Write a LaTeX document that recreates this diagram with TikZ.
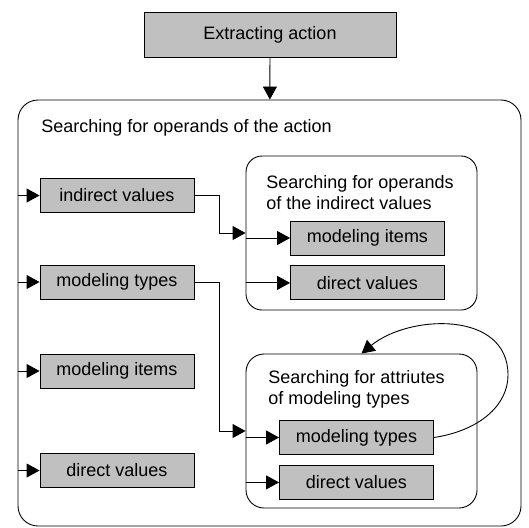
\documentclass[tikz,border=0pt]{standalone}
\usepackage{fontspec}
\setmainfont{Liberation Sans}
\usepackage{tikz}
\usetikzlibrary{arrows.meta,positioning,calc}
\definecolor{boxgray}{HTML}{C0C0C0}

\begin{document}
\begin{tikzpicture}[
  x=1pt, y=1pt,
  font=\fontsize{18}{21}\selectfont,
  line width=0.9pt,
  arr/.style={-{Triangle[length=13pt,width=14pt]}},
  itembox/.style={draw, fill=boxgray, inner sep=0pt, minimum width=154pt, minimum height=34pt},
  frame/.style={draw, rounded corners=20pt, inner sep=0pt},
  caption/.style={anchor=west, align=left, inner sep=0pt}
]
\useasboundingbox (0,0) rectangle (529,-527);

\node[itembox, minimum width=252pt, minimum height=45pt] (extract) at (270,-34.5) {Extracting action};

% outer frame and its items
\node[frame, minimum width=503pt, minimum height=426pt] (action) at (269.5,-313) {};
\node[caption] (actiontitle) at (41,-128) {Searching for operands of the action};
\node[itembox] (indval) at (117,-195.5) {indirect values};
\node[itembox] (modtypA) at (117,-282) {modeling types};
\node[itembox] (moditemA) at (117,-371) {modeling items};
\node[itembox] (dirvalA) at (117,-470.5) {direct values};

% operands of the indirect values
\node[frame, rounded corners=16pt, minimum width=231pt, minimum height=154pt] (operands) at (361.5,-233) {};
\node[caption] (operandstitle) at (266,-192.5) {Searching for operands\\of the indirect values};
\node[itembox] (moditemB) at (367.5,-238) {modeling items};
\node[itembox, below=10pt of moditemB] (dirvalB) {direct values};

% attributes of modeling types
\node[frame, rounded corners=18pt, minimum width=231pt, minimum height=154pt] (attribs) at (361.5,-431) {};
\node[caption] (attribstitle) at (268,-389.5) {Searching for attriutes\\of modeling types};
\node[itembox] (modtypC) at (356.5,-437.5) {modeling types};
\node[itembox, below=10pt of modtypC] (dirvalC) {direct values};

\draw[arr] (extract) -- (action);

\draw[arr] (action.west |- indval) -- (indval);
\draw[arr] (action.west |- modtypA) -- (modtypA);
\draw[arr] (action.west |- moditemA) -- (moditemA);
\draw[arr] (action.west |- dirvalA) -- (dirvalA);

\draw[arr] (indval.east) -- ++(25,0) |- (operands.west);
\draw[arr] (modtypA.east) -- ++(25,0) |- (attribs.west);

\draw[arr] (operands.west |- moditemB) -- (moditemB);
\draw[arr] (operands.west |- dirvalB) -- (dirvalB);
\draw[arr] (attribs.west |- modtypC) -- (modtypC);
\draw[arr] (attribs.west |- dirvalC) -- (dirvalC);

\coordinate (loopright) at (508,-375);
\draw[arr] (modtypC.east) .. controls +(46,7) and +(0,-30) .. (loopright)
  .. controls +(0,65) and +(47,39) .. (attribs.north);
\end{tikzpicture}
\end{document}
